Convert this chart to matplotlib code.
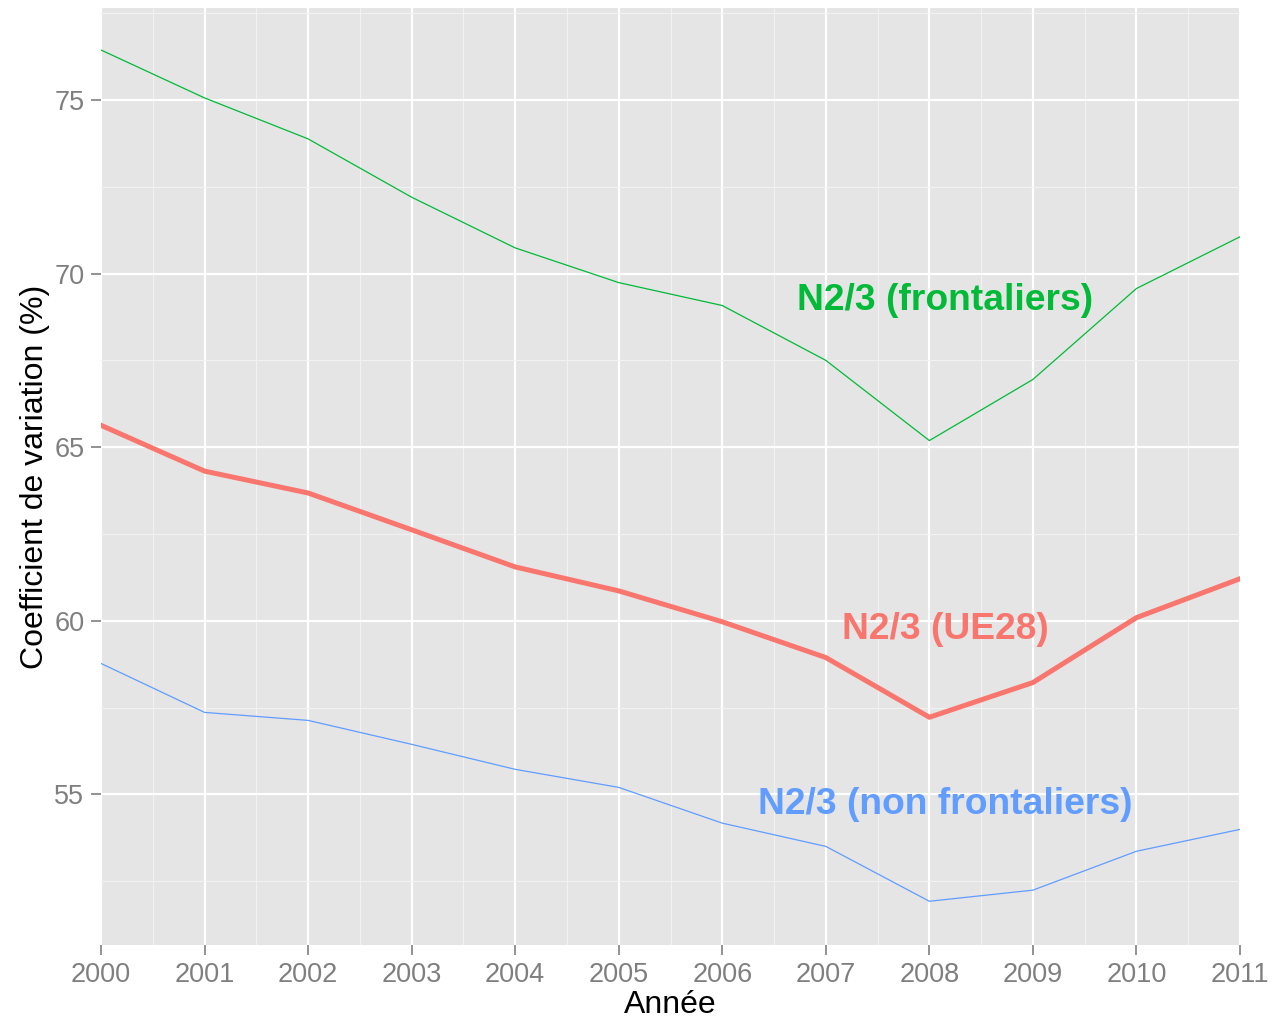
import matplotlib
matplotlib.use("Agg")
import matplotlib.pyplot as plt

years = [2000, 2001, 2002, 2003, 2004, 2005, 2006, 2007, 2008, 2009, 2010, 2011]
frontaliers = [76.44, 75.06, 73.88, 72.20, 70.74, 69.74, 69.08, 67.50, 65.19, 66.95, 69.57, 71.06]
ue28 = [65.63, 64.31, 63.68, 62.62, 61.55, 60.86, 59.97, 58.94, 57.22, 58.22, 60.09, 61.21]
non_frontaliers = [58.77, 57.36, 57.13, 56.44, 55.72, 55.20, 54.17, 53.50, 51.92, 52.24, 53.36, 53.99]

labels = ["N2/3 (frontaliers)", "N2/3 (UE28)", "N2/3 (non frontaliers)"]
label_pos = [(2008.15, 69.22), (2008.15, 59.75), (2008.15, 54.7)]
colors = ["#00BA38", "#F8766D", "#619CFF"]

plt.rcParams['font.family'] = ['Liberation Sans', 'DejaVu Sans']

fig = plt.figure(figsize=(12.81, 10.19), dpi=100)
ax = fig.add_axes([101 / 1281, 1 - 945 / 1019, (1240 - 101) / 1281, (945 - 8) / 1019])
ax.set_facecolor("#E5E5E5")
for s in ax.spines.values():
    s.set_visible(False)

ax.set_xlim(2000, 2011)
ax.set_ylim(50.66, 77.65)
ax.set_xticks(years)
ax.set_xticks([y + 0.5 for y in years[:-1]], minor=True)
ax.set_yticks([55, 60, 65, 70, 75])
ax.set_yticks([52.5, 57.5, 62.5, 67.5, 72.5, 77.5], minor=True)
ax.grid(which="major", color="white", linewidth=1.6)
ax.grid(which="minor", color="#F2F2F2", linewidth=0.8)
ax.set_axisbelow(True)
ax.tick_params(which="major", length=7, width=1.2, color="#7F7F7F",
               labelsize=19.5, labelcolor="#7F7F7F", pad=5)
ax.tick_params(which="minor", length=0)

ax.plot(years, frontaliers, color=colors[0], linewidth=0.9)
ax.plot(years, ue28, color=colors[1], linewidth=3.6)
ax.plot(years, non_frontaliers, color=colors[2], linewidth=0.9)

for lab, (x, y), c in zip(labels, label_pos, colors):
    ax.text(x, y, lab, color=c, fontsize=26.8, fontweight="bold", ha="center", va="center")

ax.set_xlabel("Année", fontsize=23, color="black", labelpad=2)
ax.set_ylabel("Coefficient de variation (%)", fontsize=23, color="black", labelpad=3)

fig.savefig("out.png", dpi=100)
